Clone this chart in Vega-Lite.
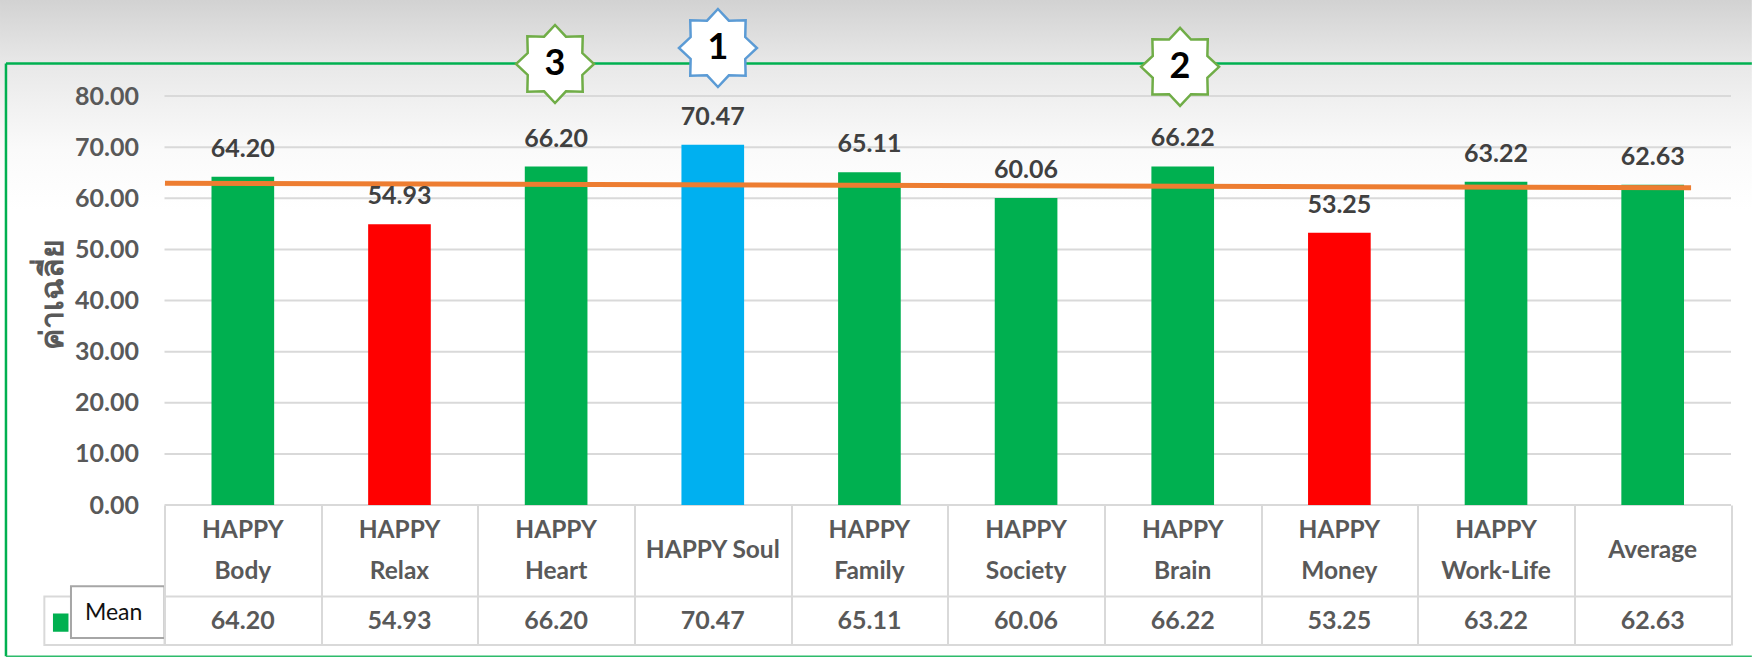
{
"$schema":"https://vega.github.io/schema/vega-lite/v6.json",
"width":1566.5,"height":409,
"autosize":{"type":"none"},
"padding":{"left":164.5,"top":96,"right":21,"bottom":152},
"background":"#ffffff",
"config":{"view":{"stroke":null},"font":"Lato"},
"datasets":{
"scores":[
{"name":"HAPPY\nBody","mean":64.20,"group":"normal"},
{"name":"HAPPY\nRelax","mean":54.93,"group":"low"},
{"name":"HAPPY\nHeart","mean":66.20,"group":"normal"},
{"name":"HAPPY Soul","mean":70.47,"group":"top"},
{"name":"HAPPY\nFamily","mean":65.11,"group":"normal"},
{"name":"HAPPY\nSociety","mean":60.06,"group":"normal"},
{"name":"HAPPY\nBrain","mean":66.22,"group":"normal"},
{"name":"HAPPY\nMoney","mean":53.25,"group":"low"},
{"name":"HAPPY\nWork-Life","mean":63.22,"group":"normal"},
{"name":"Average","mean":62.63,"group":"normal"}
],
"gridlines":[{"v":10},{"v":20},{"v":30},{"v":40},{"v":50},{"v":60},{"v":70},{"v":80}],
"tableLines":[{"v":0},{"v":-17.9},{"v":-27.4}],
"trend":[{"slot":0.003,"level":62.95},{"slot":9.745,"level":62.07}],
"badges":[
{"rank":"3","slot":2.493,"level":86.26,"tier":"other"},
{"rank":"1","slot":3.533,"level":89.39,"tier":"first"},
{"rank":"2","slot":6.483,"level":85.7,"tier":"other"}
],
"one":[{"part":"chrome"}]
},
"resolve":{"scale":{"x":"independent"},"axis":{"y":"independent"}},
"layer":[
{"data":{"name":"one"},"mark":{"type":"rect","fill":{"gradient":"linear","x1":0,"y1":0,"x2":0,"y2":1,"stops":[{"offset":0,"color":"#d2d2d2"},{"offset":0.097,"color":"#e8e8e8"},{"offset":0.146,"color":"#efefef"},{"offset":0.228,"color":"#fafafa"},{"offset":0.32,"color":"#ffffff"},{"offset":1,"color":"#ffffff"}]}},
 "encoding":{"x":{"datum":-1.05,"type":"quantitative","scale":{"domain":[0,10]},"axis":null},"x2":{"datum":10.133},
 "y":{"datum":98.78,"type":"quantitative","scale":{"domain":[0,80],"nice":false,"zero":false},"axis":null},"y2":{"datum":-29.7}}},
{"data":{"name":"one"},"mark":{"type":"rule","color":"#00b050","strokeWidth":2.5},
 "encoding":{"x":{"datum":-1.012,"type":"quantitative","scale":{"domain":[0,10]},"axis":null},"x2":{"datum":10.133},"y":{"datum":86.35,"type":"quantitative","axis":null}}},
{"data":{"name":"one"},"mark":{"type":"rule","color":"#00b050","strokeWidth":2.5},
 "encoding":{"x":{"datum":-1.012,"type":"quantitative","scale":{"domain":[0,10]},"axis":null},"y":{"datum":86.35,"type":"quantitative","axis":null},"y2":{"datum":-29.6}}},
{"data":{"name":"one"},"mark":{"type":"rule","color":"#2dbb6b","strokeWidth":1.5},
 "encoding":{"x":{"datum":-1.012,"type":"quantitative","scale":{"domain":[0,10]},"axis":null},"x2":{"datum":10.133},"y":{"datum":-29.6,"type":"quantitative","axis":null}}},
{"data":{"name":"gridlines"},"mark":{"type":"rule","color":"#d9d9d9","strokeWidth":2},
 "encoding":{"y":{"field":"v","type":"quantitative","axis":null}}},
{"data":{"name":"tableLines"},"mark":{"type":"rule","color":"#d9d9d9","strokeWidth":2},
 "encoding":{"y":{"field":"v","type":"quantitative","axis":null}}},
{"data":{"name":"one"},"mark":{"type":"rect","fill":"#ffffff","stroke":"#d9d9d9","strokeWidth":2},
 "encoding":{"x":{"datum":-0.767,"type":"quantitative","scale":{"domain":[0,10]},"axis":null},"x2":{"datum":0},"y":{"datum":-17.9,"type":"quantitative","axis":null},"y2":{"datum":-27.4}}},
{"data":{"name":"one"},"mark":{"type":"rect","fill":"#00b050"},
 "encoding":{"x":{"datum":-0.712,"type":"quantitative","scale":{"domain":[0,10]},"axis":null},"x2":{"datum":-0.613},"y":{"datum":-21.2,"type":"quantitative","axis":null},"y2":{"datum":-24.8}}},
{"data":{"name":"one"},"mark":{"type":"rect","fill":"#ffffff","stroke":"#a6a6a6","strokeWidth":2},
 "encoding":{"x":{"datum":-0.597,"type":"quantitative","scale":{"domain":[0,10]},"axis":null},"x2":{"datum":0},"y":{"datum":-15.9,"type":"quantitative","axis":null},"y2":{"datum":-26}}},
{"data":{"values":[{"series":"Mean"}]},"mark":{"type":"text","font":"Lato","fontSize":23,"color":"#111111","baseline":"middle"},
 "encoding":{"x":{"datum":-0.325,"type":"quantitative","scale":{"domain":[0,10]},"axis":null},"y":{"datum":-21.2,"type":"quantitative","axis":null},"text":{"field":"series"}}},
{"data":{"name":"scores"},"mark":{"type":"bar","width":{"band":0.4}},
 "encoding":{"x":{"field":"name","type":"nominal","sort":null,"scale":{"paddingInner":0,"paddingOuter":0},"axis":{"title":null,"labels":false,"domain":false,"ticks":true,"tickBand":"extent","tickSize":140,"tickColor":"#d9d9d9","tickWidth":2,"zindex":1}},
 "y":{"field":"mean","type":"quantitative","axis":{"title":"ค่าเฉลี่ย","values":[0,10,20,30,40,50,60,70,80],"format":".2f","domain":false,"ticks":false,"grid":false,"labelFont":"Lato","labelFontWeight":"bold","labelFontSize":25,"labelColor":"#595959","labelPadding":26,"titleFontSize":32,"titleFontWeight":"bold","titleColor":"#595959","titleX":-112,"titleY":198,"titleBaseline":"middle","zindex":1}},
 "color":{"field":"group","type":"nominal","scale":{"domain":["normal","low","top"],"range":["#00b050","#ff0000","#00b0f0"]},"legend":null}}},
{"data":{"name":"trend"},"mark":{"type":"line","color":"#ed7d31","strokeWidth":5},
 "encoding":{"x":{"field":"slot","type":"quantitative","scale":{"domain":[0,10]},"axis":null},"y":{"field":"level","type":"quantitative","axis":null}}},
{"data":{"name":"scores"},"mark":{"type":"text","font":"Lato","fontWeight":"bold","fontSize":25,"color":"#404040","baseline":"middle","dy":-28},
 "encoding":{"x":{"field":"name","type":"nominal","sort":null,"scale":{"paddingInner":0,"paddingOuter":0},"axis":null},"y":{"field":"mean","type":"quantitative","axis":null},"text":{"field":"mean","type":"quantitative","format":".2f"}}},
{"data":{"name":"scores"},"transform":[{"calculate":"indexof(datum.name,'\\n')>=0 ? -5.09 : -9.08","as":"headerLevel"}],"mark":{"type":"text","font":"Lato","fontWeight":"bold","fontSize":24.5,"color":"#595959","baseline":"middle","lineBreak":"\n","lineHeight":41},
 "encoding":{"x":{"field":"name","type":"nominal","sort":null,"scale":{"paddingInner":0,"paddingOuter":0},"axis":null},"y":{"field":"headerLevel","type":"quantitative","axis":null},"text":{"field":"name"}}},
{"data":{"name":"scores"},"mark":{"type":"text","font":"Lato","fontWeight":"bold","fontSize":25,"color":"#595959","baseline":"middle"},
 "encoding":{"x":{"field":"name","type":"nominal","sort":null,"scale":{"paddingInner":0,"paddingOuter":0},"axis":null},"y":{"datum":-22.7,"type":"quantitative","axis":null},"text":{"field":"mean","type":"quantitative","format":".2f"}}},
{"data":{"name":"badges"},"mark":{"type":"point","filled":true,"fill":"#ffffff","strokeWidth":2.5,"opacity":1,"shape":"M0,-1L0.28,-0.7L0.71,-0.71L0.7,-0.28L1,0L0.7,0.28L0.71,0.71L0.28,0.7L0,1L-0.28,0.7L-0.71,0.71L-0.7,0.28L-1,0L-0.7,-0.28L-0.71,-0.71L-0.28,-0.7Z","size":6084},
 "encoding":{"x":{"field":"slot","type":"quantitative","scale":{"domain":[0,10]},"axis":null},"y":{"field":"level","type":"quantitative","axis":null},
 "stroke":{"field":"tier","type":"nominal","scale":{"domain":["other","first"],"range":["#70ad47","#5b9bd5"]},"legend":null}}},
{"data":{"name":"badges"},"mark":{"type":"text","font":"Lato","fontWeight":"bold","fontSize":36,"color":"#000000","baseline":"middle"},
 "encoding":{"x":{"field":"slot","type":"quantitative","scale":{"domain":[0,10]},"axis":null},"y":{"field":"level","type":"quantitative","axis":null},"text":{"field":"rank"}}}
]
}
